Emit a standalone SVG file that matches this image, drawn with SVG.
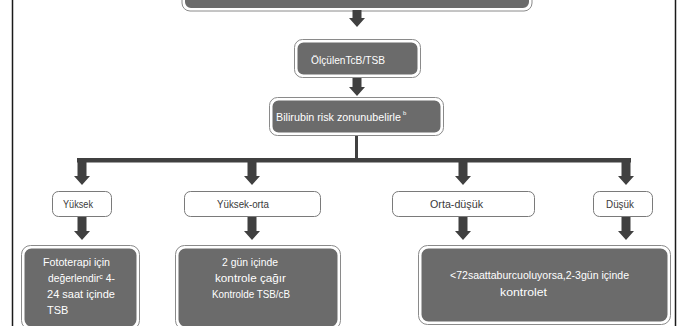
<svg xmlns="http://www.w3.org/2000/svg" width="680" height="326" viewBox="0 0 680 326">
<style>
.frame{stroke:#1a1a1a;stroke-width:1.5;fill:none}
.dark{fill:#6b6b6b;stroke:#ffffff;stroke-width:2}
.darko{fill:none;stroke:#8a8a8a;stroke-width:1}
.lab{fill:#ffffff;stroke:#7a7a7a;stroke-width:1}
.arr{fill:#404040}
.wt{font-family:"Liberation Sans Narrow","Liberation Sans","DejaVu Sans",Arial,sans-serif;fill:#ffffff;font-size:11px}
.lt{font-family:"Liberation Sans Narrow","Liberation Sans",Arial,sans-serif;fill:#3a3a3a;font-size:11px}
.sup{font-family:"Liberation Sans",Arial,sans-serif;fill:#ffffff;font-size:6px}
</style>
<rect width="680" height="326" fill="#ffffff"/>
<line class="frame" x1="12.5" y1="0" x2="12.5" y2="326"/>
<line class="frame" x1="675.5" y1="0" x2="675.5" y2="326"/>

<g id="top">
<rect class="darko" x="182" y="-12" width="350" height="23" rx="8"/>
<rect class="dark" x="184" y="-10" width="346" height="19" rx="7"/>
</g>

<g id="connectors">
<polygon class="arr" points="352.5,10 361.5,10 361.5,18 365,18 357,27 349,18 352.5,18"/>
<polygon class="arr" points="352.5,77 361.5,77 361.5,87 365,87 357,96 349,87 352.5,87"/>
<rect class="arr" x="355" y="135" width="3" height="25"/>
<rect class="arr" x="77" y="158" width="554" height="4.5"/>
<polygon class="arr" points="77.5,160 86.5,160 86.5,176 90,176 82,185 74,176 77.5,176"/>
<polygon class="arr" points="247.5,160 256.5,160 256.5,176 260,176 252,185 244,176 247.5,176"/>
<polygon class="arr" points="458.5,160 467.5,160 467.5,176 471,176 463,185 455,176 458.5,176"/>
<polygon class="arr" points="621.5,160 630.5,160 630.5,176 634,176 626,185 618,176 621.5,176"/>
<polygon class="arr" points="77.5,217 86.5,217 86.5,231 90,231 82,240 74,231 77.5,231"/>
<polygon class="arr" points="247.5,217 256.5,217 256.5,231 260,231 252,240 244,231 247.5,231"/>
<polygon class="arr" points="458.5,217 467.5,217 467.5,231 471,231 463,240 455,231 458.5,231"/>
<polygon class="arr" points="621.5,217 630.5,217 630.5,231 634,231 626,240 618,231 621.5,231"/>
</g>

<g id="olculen">
<rect class="darko" x="294.5" y="39.5" width="126" height="38" rx="8"/>
<rect class="dark" x="296.5" y="41.5" width="122" height="34" rx="7"/>
<text class="wt" x="311" y="64" textLength="74" lengthAdjust="spacingAndGlyphs">ÖlçülenTcB/TSB</text>
</g>

<g id="bilirubin">
<rect class="darko" x="269.5" y="97.5" width="174" height="38" rx="8"/>
<rect class="dark" x="271.5" y="99.5" width="170" height="34" rx="7"/>
<text class="wt" x="276" y="121" font-size="10.5" textLength="125" lengthAdjust="spacingAndGlyphs">Bilirubin risk zonunubelirle</text>
<text class="sup" x="403" y="115">b</text>
</g>

<g id="yuksek">
<rect class="lab" x="52.5" y="191.5" width="59" height="25" rx="6"/>
<text class="lt" x="63" y="208" textLength="30" lengthAdjust="spacingAndGlyphs">Yüksek</text>
</g>
<g id="yuksek-orta">
<rect class="lab" x="184.5" y="191.5" width="136" height="25" rx="6"/>
<text class="lt" x="217" y="208" textLength="52" lengthAdjust="spacingAndGlyphs">Yüksek-orta</text>
</g>
<g id="orta-dusuk">
<rect class="lab" x="392.5" y="191.5" width="142" height="25" rx="6"/>
<text class="lt" x="430" y="208" textLength="53" lengthAdjust="spacingAndGlyphs">Orta-düşük</text>
</g>
<g id="dusuk">
<rect class="lab" x="593.5" y="191.5" width="59" height="25" rx="6"/>
<text class="lt" x="606" y="208" textLength="28" lengthAdjust="spacingAndGlyphs">Düşük</text>
</g>

<g id="fototerapi">
<rect class="darko" x="21.5" y="245.5" width="118" height="84" rx="9"/>
<rect class="dark" x="23.5" y="247.5" width="114" height="80" rx="8"/>
<text class="wt" font-size="12" x="43" y="266" textLength="67" lengthAdjust="spacingAndGlyphs">Fototerapi için</text>
<text class="wt" font-size="12" x="48" y="282" textLength="67" lengthAdjust="spacingAndGlyphs">değerlendirᶜ 4-</text>
<text class="wt" font-size="12" x="47" y="298" textLength="68" lengthAdjust="spacingAndGlyphs">24 saat içinde</text>
<text class="wt" font-size="12" x="47" y="314">TSB</text>
</g>

<g id="kontrol2">
<rect class="darko" x="175.5" y="245.5" width="165" height="84" rx="9"/>
<rect class="dark" x="177.5" y="247.5" width="161" height="80" rx="8"/>
<text class="wt" font-size="12" x="222" y="266" textLength="56" lengthAdjust="spacingAndGlyphs">2 gün içinde</text>
<text class="wt" font-size="12" x="215" y="282" textLength="71" lengthAdjust="spacingAndGlyphs">kontrole çağır</text>
<text class="wt" font-size="12" x="212" y="298" textLength="78" lengthAdjust="spacingAndGlyphs">Kontrolde TSB/cB</text>
</g>

<g id="kontrol3">
<rect class="darko" x="418.5" y="245.5" width="252" height="79" rx="9"/>
<rect class="dark" x="420.5" y="247.5" width="248" height="75" rx="8"/>
<text class="wt" font-size="12" x="450" y="279" textLength="179" lengthAdjust="spacingAndGlyphs">&lt;72saattaburcuoluyorsa,2-3gün içinde</text>
<text class="wt" font-size="12" x="500" y="296" textLength="47" lengthAdjust="spacingAndGlyphs">kontrolet</text>
</g>
</svg>
